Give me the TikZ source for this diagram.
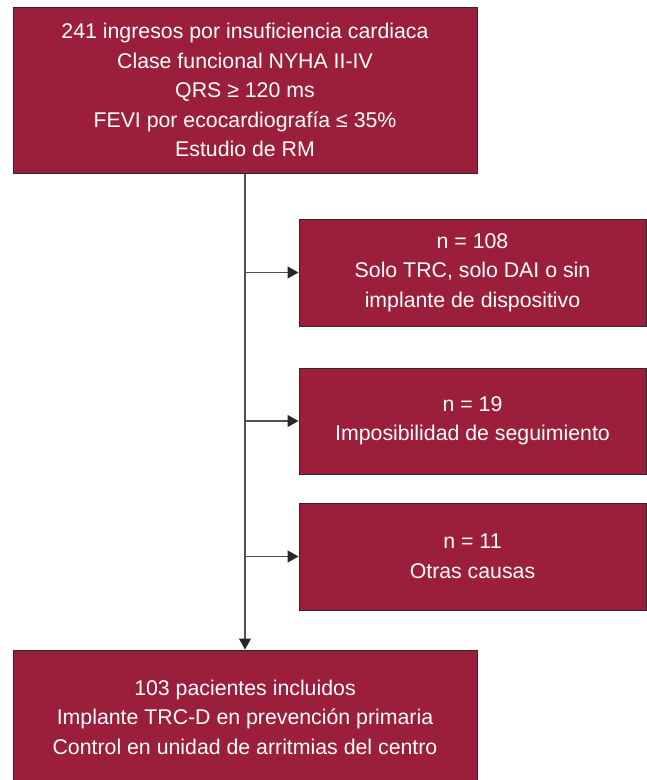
\documentclass[tikz,border=0pt]{standalone}
\usepackage{fontspec}
\setmainfont{Liberation Sans}
\usetikzlibrary{arrows.meta}
\definecolor{boxred}{RGB}{155,31,58}
\definecolor{boxline}{RGB}{45,40,42}
\definecolor{conn}{RGB}{80,80,80}
\begin{document}
\begin{tikzpicture}[x=1pt,y=-1pt,
  flowbox/.style={draw=boxline,line width=1pt,fill=boxred,text=white,
    align=center,inner sep=0pt,
    font=\fontsize{21.3pt}{29.5pt}\selectfont},
  link/.style={draw=conn,line width=1.2pt},
  tip/.style={-{Triangle[length=11pt,width=12pt,fill=black!85,color=black!85]}}]
\useasboundingbox (0,0) rectangle (647,780);
\node[flowbox,minimum width=464pt,minimum height=166pt] (top) at (245,90)
  {241 ingresos por insuficiencia cardiaca\\Clase funcional NYHA II-IV\\QRS ≥ 120 ms\\FEVI por ecocardiografía ≤ 35\%\\Estudio de RM};
\node[flowbox,minimum width=347pt,minimum height=107pt] (b1) at (472.5,272.5)
  {n = 108\\Solo TRC, solo DAI o sin\\implante de dispositivo};
\node[flowbox,minimum width=347pt,minimum height=106pt] (b2) at (472.5,421)
  {n = 19\\Imposibilidad de seguimiento};
\node[flowbox,minimum width=347pt,minimum height=107pt] (b3) at (472.5,556.5)
  {n = 11\\Otras causas};
\node[flowbox,minimum width=464pt,minimum height=134pt,text depth=0pt] (bot) at (245,717)
  {103 pacientes incluidos\\Implante TRC-D en prevención primaria\\Control en unidad de arritmias del centro};
\draw[link,tip] (top.south) -- (bot.north);
\draw[link,tip] (top.south |- b1.west) -- (b1.west);
\draw[link,tip] (top.south |- b2.west) -- (b2.west);
\draw[link,tip] (top.south |- b3.west) -- (b3.west);
\end{tikzpicture}
\end{document}
